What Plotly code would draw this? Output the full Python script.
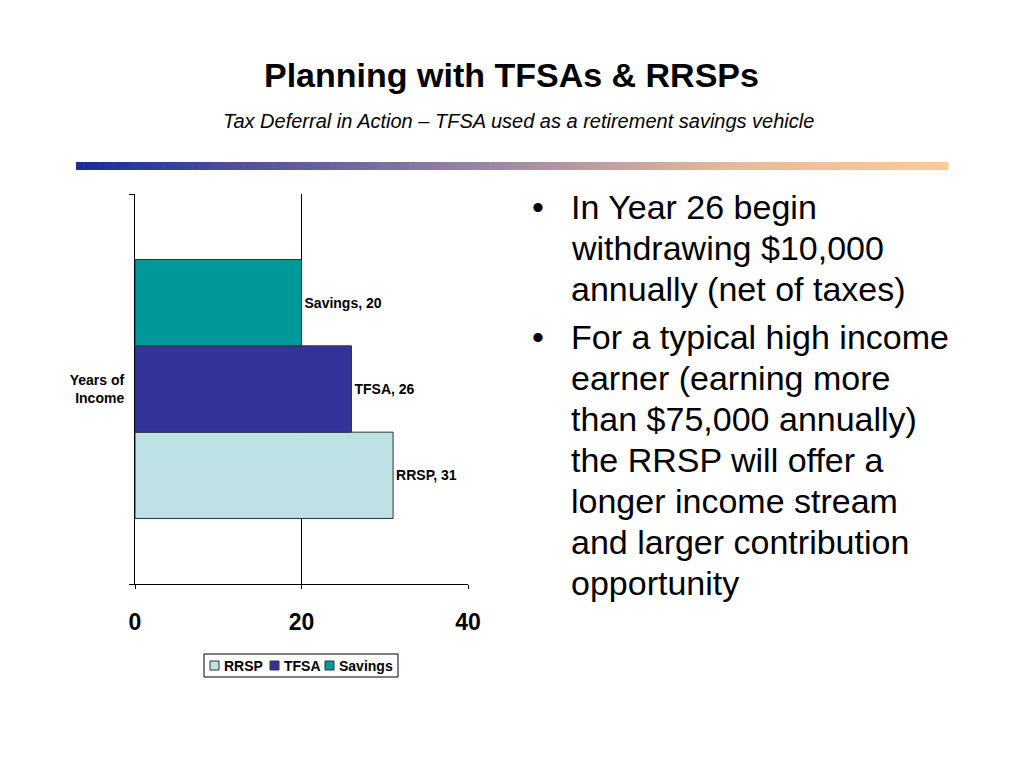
import plotly.graph_objects as go

categories = ["Years of Income"]
series_names = ["RRSP", "TFSA", "Savings"]
series_values = [[31], [26], [20]]
series_colors = ["#bde1e4", "#333399", "#009999"]
x_ticks = [0, 20, 40]
x_tick_labels = ["0", "20", "40"]

title = "Planning with TFSAs &amp; RRSPs"
subtitle = "Tax Deferral in Action – TFSA used as a retirement savings vehicle"
bullets = [
    ["In Year 26 begin", "withdrawing $10,000", "annually (net of taxes)"],
    ["For a typical high income", "earner (earning more", "than $75,000 annually)",
     "the RRSP will offer a", "longer income stream", "and larger contribution", "opportunity"],
]

FONT = "Liberation Sans, Arial, sans-serif"
OFF = 8  # page body margin of the browser

fig = go.Figure()
for name, vals, col in zip(series_names, series_values, series_colors):
    fig.add_trace(go.Bar(
        y=categories, x=vals, name=name, orientation="h",
        marker=dict(color=col, line=dict(color="#333333", width=1)),
        texttemplate="<b>" + name + ", %{x}</b>", textposition="outside",
        textfont=dict(family=FONT, size=14, color="black"),
        cliponaxis=False, showlegend=False,
    ))

# plot area in target-page pixels
L, R, T, B = 135, 468, 194, 584
W, H = R - L, B - T
FW, FH = 1024, 768

def px(xp):
    return (xp - L) / W

def py(yp):
    return (B - yp) / H

annotations = []
annotations.append(dict(text="<b>" + title + "</b>", xref="paper", yref="paper",
                        x=px(512), y=py(75), xanchor="center", yanchor="middle",
                        showarrow=False, font=dict(family=FONT, size=34, color="black")))
annotations.append(dict(text="<i>" + subtitle + "</i>", xref="paper", yref="paper",
                        x=px(518), y=py(121), xanchor="center", yanchor="middle",
                        showarrow=False, font=dict(family=FONT, size=20, color="black")))

line_y = 207
for bi, lines in enumerate(bullets):
    if bi > 0:
        line_y += 7
    annotations.append(dict(text="•", xref="paper", yref="paper", x=px(538), y=py(line_y),
                            xanchor="center", yanchor="middle", showarrow=False,
                            font=dict(family=FONT, size=34, color="black")))
    for ln in lines:
        annotations.append(dict(text=ln, xref="paper", yref="paper", x=px(569), y=py(line_y),
                                xanchor="left", yanchor="middle", showarrow=False,
                                font=dict(family=FONT, size=34, color="black")))
        line_y += 41

shapes = []
# gradient rule
gx0, gx1, gy0, gy1 = 76, 948, 162, 170
stops = [(0.0, (24, 44, 150)), (0.45, (150, 130, 165)), (0.75, (230, 185, 155)), (1.0, (255, 202, 148))]

def col_at(t):
    for (t0, c0), (t1, c1) in zip(stops[:-1], stops[1:]):
        if t <= t1:
            f = (t - t0) / (t1 - t0)
            return "rgb(%d,%d,%d)" % tuple(round(a + (b - a) * f) for a, b in zip(c0, c1))
    return "rgb(%d,%d,%d)" % stops[-1][1]

N = 120
for i in range(N):
    a = gx0 + (gx1 - gx0) * i / N
    b = gx0 + (gx1 - gx0) * (i + 1) / N + 0.6
    shapes.append(dict(type="rect", xref="paper", yref="paper", x0=px(a), x1=px(b),
                       y0=py(gy1), y1=py(gy0), line=dict(width=0),
                       fillcolor=col_at((i + 0.5) / N), layer="above"))

# legend (drawn to match the compact boxed legend)
shapes.append(dict(type="rect", xref="paper", yref="paper", x0=px(204), x1=px(398),
                   y0=py(677), y1=py(654), line=dict(color="black", width=1), fillcolor="white"))
sw_x = [210, 270, 325]
for name, col, sx in zip(series_names, series_colors, sw_x):
    shapes.append(dict(type="rect", xref="paper", yref="paper", x0=px(sx), x1=px(sx + 9),
                       y0=py(670), y1=py(661), line=dict(color="#333333", width=1), fillcolor=col))
    annotations.append(dict(text="<b>" + name + "</b>", xref="paper", yref="paper",
                            x=px(sx + 12), y=py(666), xanchor="left", yanchor="middle",
                            showarrow=False, font=dict(family=FONT, size=14, color="black")))

fig.update_layout(
    width=FW, height=FH,
    margin=dict(l=L - OFF, r=FW - R + OFF, t=T - OFF, b=FH - B + OFF, pad=0),
    paper_bgcolor="white", plot_bgcolor="white",
    barmode="group", bargap=0.336, bargroupgap=0,
    showlegend=False,
    xaxis=dict(range=[0, 40], tickvals=x_ticks, ticktext=["<b>%s</b>" % t for t in x_tick_labels],
               showgrid=True, gridcolor="black", gridwidth=1,
               zeroline=False, showline=True, linecolor="black", linewidth=1,
               ticks="outside", ticklen=4, tickcolor="black", ticklabelstandoff=13,
               tickfont=dict(family=FONT, size=23, color="black")),
    yaxis=dict(type="category", showline=True, linecolor="black", linewidth=1,
               ticks="outside", tickson="boundaries", ticklen=5, tickcolor="black",
               ticklabelstandoff=7,
               tickfont=dict(family=FONT, size=14, color="black"),
               ticktext=["<b>Years of<br>Income</b>"], tickvals=categories, showgrid=False),
    annotations=annotations, shapes=shapes,
    font=dict(family=FONT),
)

fig.write_html("out.html")
